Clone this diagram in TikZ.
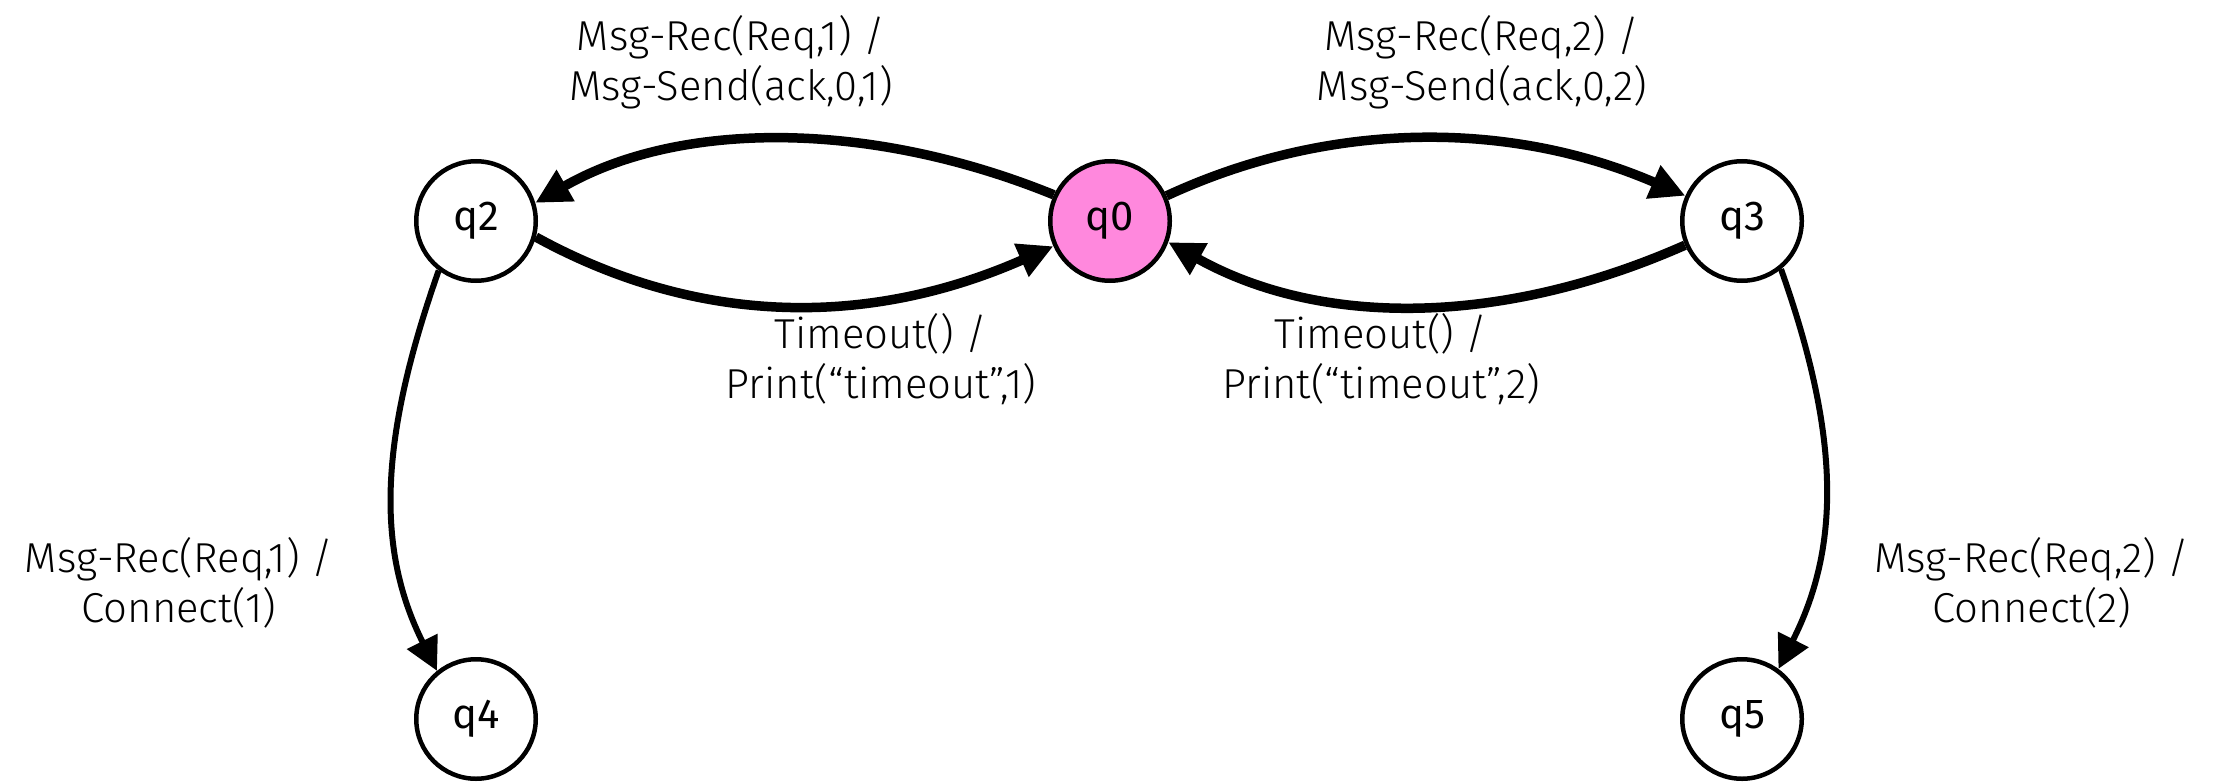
\documentclass[tikz,border=0pt]{standalone}
\usepackage{fontspec}
\setmainfont{Fira Sans Light}
\newfontfamily\statefont{Fira Sans}
\usetikzlibrary{arrows.meta}
\definecolor{qpink}{HTML}{FF88DD}
\tikzset{
  state/.style={circle, draw=black, line width=4.5bp, fill=white, minimum size=119.5bp, inner sep=0pt, font=\statefont\fontsize{42}{42}\selectfont},
  lbl/.style={align=center, inner sep=0pt, font=\fontsize{42}{50}\selectfont},
  bigarc/.style={line width=9.5bp, -{Triangle[length=35bp,width=34bp]}},
  sidearc/.style={line width=6bp, -{Triangle[length=33bp,width=33bp]}}
}
\begin{document}
\begin{tikzpicture}[x=1bp,y=-1bp]
\useasboundingbox (0,0) rectangle (2220,781);
\node[state] (q2) at (476,221) {q2};
\node[state, fill=qpink] (q0) at (1110,221) {q0};
\node[state] (q3) at (1742,221) {q3};
\node[state] (q4) at (476,719) {q4};
\node[state] (q5) at (1742,719) {q5};

\draw[bigarc] (q0.155) .. controls (870,120) and (680,120) .. (q2.17);
\draw[bigarc] (q2.-15) .. controls (700,327) and (870,327) .. (q0.204.5);
\draw[bigarc] (q0.24.5) .. controls (1330,120) and (1510,120) .. (q3.156.6);
\draw[bigarc] (q3.203.4) .. controls (1500,327) and (1320,327) .. (q0.-20);
\draw[sidearc] (q2.233) .. controls (379,440) and (376,549) .. (q4.129);
\draw[sidearc] (q3.-51) .. controls (1842,441) and (1839,549) .. (q5.54);

\node[lbl, anchor=base] (l02) at (731,100) {Msg-Rec(Req,1) /\\Msg-Send(ack,0,1)};
\node[lbl, anchor=base] (l03) at (1482,100) {Msg-Rec(Req,2) /\\Msg-Send(ack,0,2)};
\node[lbl, anchor=base] (l20) at (881,398) {Timeout() /\\Print(``timeout'',1)};
\node[lbl, anchor=base] (l30) at (1381,398) {Timeout() /\\Print(``timeout'',2)};
\node[lbl, anchor=base] (l24) at (179,622) {Msg-Rec(Req,1) /\\Connect(1)};
\node[lbl, anchor=base] (l35) at (2032,622) {Msg-Rec(Req,2) /\\Connect(2)};
\end{tikzpicture}
\end{document}
